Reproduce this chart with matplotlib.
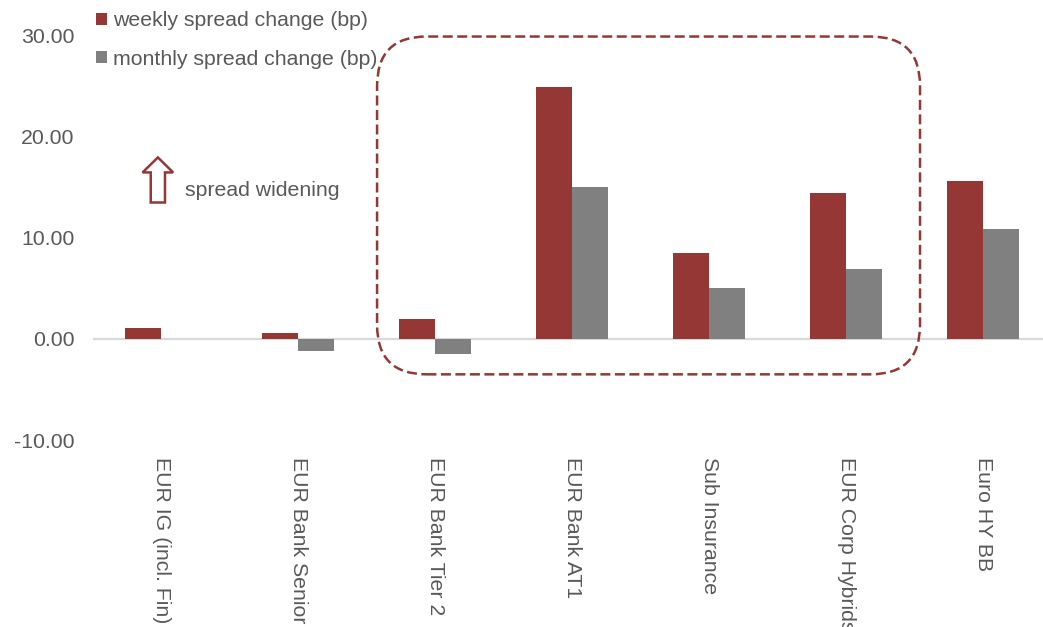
import numpy as np
import matplotlib
matplotlib.use("Agg")
import matplotlib.pyplot as plt
from matplotlib.patches import FancyBboxPatch, FancyArrow
from matplotlib.ticker import FormatStrFormatter

categories = ["EUR IG (incl. Fin)", "EUR Bank Senior", "EUR Bank Tier 2",
              "EUR Bank AT1", "Sub Insurance", "EUR Corp Hybrids", "Euro HY BB"]
weekly = [1.07, 0.58, 1.93, 24.83, 8.51, 14.39, 15.55]
monthly = [0.0, -1.21, -1.46, 14.96, 5.02, 6.89, 10.88]
yticks = [-10, 0, 10, 20, 30]

RED = "#953735"
GREY = "#808080"
TXT = "#595959"

plt.rcParams["font.family"] = ["Liberation Sans", "DejaVu Sans"]
plt.rcParams["font.size"] = 15.3

fig = plt.figure(figsize=(10.43, 6.27), dpi=100)
ax = fig.add_axes([0.0887, 0.298, 0.9195, 0.646])

x = np.arange(len(categories))
w = 0.263
ax.bar(x - w / 2, weekly, w, color=RED, linewidth=0,
       label="weekly spread change (bp)", zorder=3)
ax.bar(x + w / 2, monthly, w, color=GREY, linewidth=0,
       label="monthly spread change (bp)", zorder=3)
ax.axhline(0, color="#d9d9d9", linewidth=1.6, zorder=2)

ax.set_xlim(-0.5, len(categories) - 0.5)
ax.set_ylim(-10, 30)
ax.set_yticks(yticks)
ax.yaxis.set_major_formatter(FormatStrFormatter("%.2f"))
ax.set_xticks(x)
ax.set_xticklabels(categories, rotation=-90, ha="center", va="top")
ax.tick_params(axis="both", length=0, colors=TXT, labelsize=15.3)
ax.tick_params(axis="y", pad=13)
ax.tick_params(axis="x", pad=12)
for s in ax.spines.values():
    s.set_visible(False)

# dashed rounded box around the subordinated segments
box = FancyBboxPatch((1.577, -3.5), 5.54 - 1.577, 29.86 + 3.5,
                     boxstyle="round,pad=0,rounding_size=0.36",
                     mutation_aspect=13.5,
                     fill=False, edgecolor=RED, linewidth=1.8,
                     linestyle=(0, (4, 1.8)), clip_on=False, zorder=4)
ax.add_patch(box)

# hollow up arrow + note
arr = FancyArrow(-0.023, 13.47, 0, 4.45, width=0.104, head_width=0.223,
                 head_length=1.48, length_includes_head=True,
                 facecolor="white", edgecolor=RED, linewidth=1.8, zorder=4)
ax.add_patch(arr)
ax.text(0.175, 14.66, "spread widening", ha="left", va="center", color=TXT,
        fontsize=15.3)

leg = fig.legend(loc="upper left", bbox_to_anchor=(0.092, 0.982),
                 frameon=False, handlelength=0.5, handleheight=0.5,
                 handletextpad=0.3, labelspacing=0.92, borderpad=0,
                 borderaxespad=0, fontsize=15.3)
for t in leg.get_texts():
    t.set_color(TXT)

fig.savefig("out.png", dpi=100)
